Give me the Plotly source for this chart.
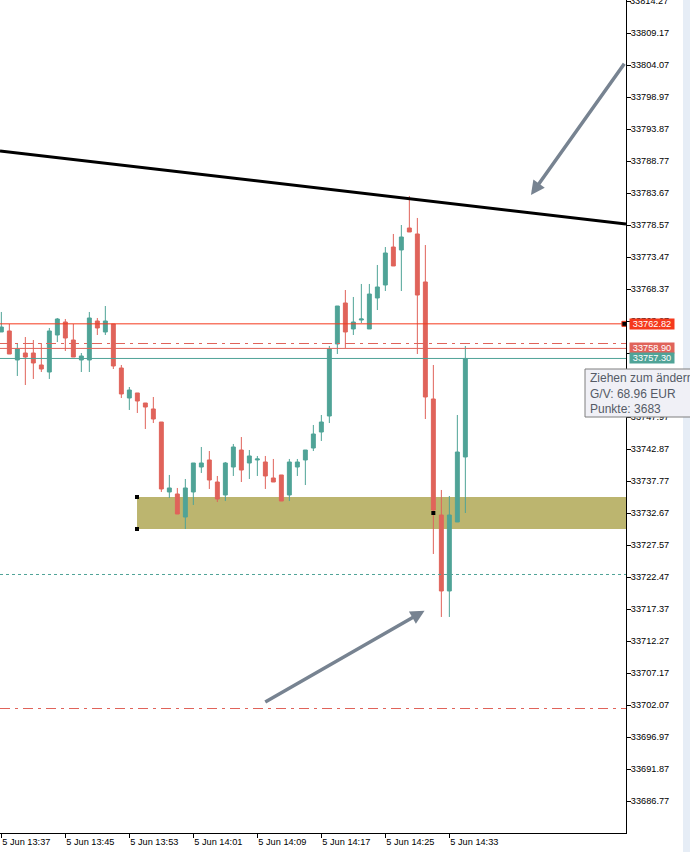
import plotly.graph_objects as go

# Candle data (one candle per minute, index = minute since 13:37)
opens = [33761.52, 33761.68, 33757.06, 33758.17, 33758.17, 33756.26, 33755.14, 33761.04, 33763.11, 33760.24,
         33757.06, 33757.06, 33763.27, 33761.52, 33762.79, 33755.78, 33751.00, 33751.80, 33750.20, 33749.25,
         33747.17, 33736.02, 33735.70, 33732.03, 33736.02, 33740.00, 33741.12, 33737.61, 33735.54, 33740.00,
         33742.71, 33740.64, 33741.12, 33740.80, 33738.25, 33738.73, 33735.54, 33740.00, 33741.12, 33743.03,
         33745.58, 33748.13, 33759.61, 33766.14, 33762.00, 33763.43, 33762.00, 33766.94, 33769.01, 33775.06,
         33774.59, 33778.09, 33777.14, 33769.49, 33750.84, 33732.35, 33720.24, 33731.24, 33741.60]
highs = [33764.71, 33762.79, 33759.76, 33760.72, 33760.24, 33759.76, 33762.16, 33763.75, 33763.59, 33762.79,
         33758.17, 33764.71, 33763.75, 33765.66, 33762.79, 33756.26, 33752.75, 33751.80, 33750.20, 33751.16,
         33747.17, 33738.73, 33736.66, 33738.09, 33740.64, 33743.19, 33742.55, 33738.57, 33740.80, 33743.67,
         33744.78, 33742.71, 33741.76, 33741.76, 33741.28, 33738.73, 33741.28, 33741.28, 33742.71, 33746.70,
         33748.29, 33759.29, 33765.66, 33768.21, 33767.10, 33769.17, 33769.17, 33772.20, 33775.06, 33777.14,
         33778.57, 33783.19, 33779.69, 33775.38, 33756.26, 33736.34, 33735.38, 33748.29, 33759.29]
lows = [33761.52, 33758.01, 33754.51, 33753.07, 33754.03, 33755.14, 33754.03, 33759.92, 33758.49, 33757.53,
        33755.14, 33755.14, 33761.04, 33761.04, 33755.62, 33751.00, 33749.09, 33748.61, 33746.06, 33747.01,
        33736.02, 33735.06, 33732.51, 33730.12, 33733.95, 33739.05, 33736.50, 33734.42, 33734.58, 33738.57,
        33737.61, 33738.09, 33738.57, 33736.50, 33737.61, 33734.58, 33734.58, 33738.57, 33737.13, 33742.55,
        33744.15, 33747.01, 33758.01, 33758.97, 33761.04, 33762.95, 33762.00, 33765.02, 33768.05, 33772.04,
        33768.05, 33777.46, 33758.01, 33747.65, 33726.14, 33716.10, 33716.10, 33731.24, 33732.67]
closes = [33762.31, 33758.01, 33758.81, 33757.53, 33756.58, 33755.62, 33761.68, 33763.59, 33760.56, 33757.53,
          33757.69, 33763.75, 33762.16, 33763.27, 33756.10, 33751.64, 33752.27, 33750.52, 33749.56, 33747.65,
          33736.50, 33736.66, 33732.51, 33736.66, 33740.64, 33740.64, 33737.93, 33734.90, 33740.64, 33743.19,
          33739.52, 33741.76, 33741.28, 33738.57, 33737.61, 33734.58, 33740.80, 33740.80, 33742.71, 33745.26,
          33747.17, 33758.81, 33765.66, 33761.52, 33763.11, 33763.59, 33767.57, 33768.69, 33774.11, 33772.04,
          33776.66, 33777.46, 33767.41, 33751.16, 33733.15, 33720.24, 33732.35, 33742.39, 33757.30]
minutes = list(range(len(opens)))

# Axis ticks
price_ticks = [33814.27, 33809.17, 33804.07, 33798.97, 33793.87, 33788.77, 33783.67, 33778.57, 33773.47,
               33768.37, 33763.27, 33758.17, 33753.07, 33747.97, 33742.87, 33737.77, 33732.67, 33727.57,
               33722.47, 33717.37, 33712.27, 33707.17, 33702.07, 33696.97, 33691.87, 33686.77]
time_ticks = [0, 8, 16, 24, 32, 40, 48, 56]
time_labels = ["5 Jun 13:37", "5 Jun 13:45", "5 Jun 13:53", "5 Jun 14:01",
               "5 Jun 14:09", "5 Jun 14:17", "5 Jun 14:25", "5 Jun 14:33"]

# Levels drawn on the chart
take_profit = 33762.82
entry_line = 33758.90
bid_line = 33757.30
dashdot_upper = 33759.685
dotted_level = 33722.87
dashdot_lower = 33701.51
zone_top = 33735.22
zone_bottom = 33730.12
trend_start = 33790.37
trend_end = 33778.73

RED = "#e0635a"
TEAL = "#4fa397"
BRIGHT_RED = "#f5391c"
ARROW = "#778391"

W, H = 690, 852
PLOT_W, PLOT_H = 626, 833
x_left, x_right = -0.167, 78.08

fig = go.Figure(go.Candlestick(
    x=minutes, open=opens, high=highs, low=lows, close=closes,
    increasing=dict(line=dict(color=TEAL, width=1), fillcolor=TEAL),
    decreasing=dict(line=dict(color=RED, width=1), fillcolor=RED),
    whiskerwidth=0, hoverinfo="skip", showlegend=False,
))

# Olive zone sits behind the candles
fig.add_shape(type="rect", xref="x", yref="y", x0=16.96, x1=x_right, y0=zone_bottom, y1=zone_top,
              fillcolor="#bcb56f", line_width=0, layer="below")

# Horizontal levels
for level, color, dash in [(take_profit, BRIGHT_RED, "solid"), (entry_line, RED, "solid"),
                           (bid_line, TEAL, "solid"), (dashdot_upper, RED, "10px,5px,3px,5px"),
                           (dotted_level, TEAL, "3px,3px"), (dashdot_lower, RED, "10px,5px,3px,5px")]:
    fig.add_shape(type="line", xref="paper", yref="y", x0=0, x1=1, y0=level, y1=level,
                  line=dict(color=color, width=1, dash=dash))

# Black trend line
fig.add_shape(type="line", xref="x", yref="y", x0=x_left, x1=x_right, y0=trend_start, y1=trend_end,
              line=dict(color="black", width=3))

# Drag handles
for hx, hy in [(16.96, zone_top), (16.96, zone_bottom), (54, 33732.67)]:
    fig.add_shape(type="rect", xref="x", yref="y", xsizemode="pixel", ysizemode="pixel",
                  xanchor=hx, yanchor=hy, x0=-2, x1=2, y0=-2, y1=2,
                  fillcolor="black", line_width=0)
fig.add_shape(type="rect", xref="x", yref="y", xsizemode="pixel", ysizemode="pixel", xanchor=x_right - 0.2,
              yanchor=take_profit, x0=-2.5, x1=2.5, y0=-2.5, y1=2.5, fillcolor="black",
              line=dict(color=BRIGHT_RED, width=1))

# Grey arrows
for tip_x, tip_y, tail_x, tail_y in [(66.2, 33783.35, 78.0, 33804.5), (52.9, 33717.1, 32.8, 33702.4)]:
    fig.add_annotation(x=tip_x, y=tip_y, ax=tail_x, ay=tail_y, xref="x", yref="y", axref="x", ayref="y",
                       text="", showarrow=True, arrowhead=2, arrowsize=0.8, arrowwidth=3.5, arrowcolor=ARROW)

# Price tags on the axis
for level, color in [(take_profit, BRIGHT_RED), (entry_line, RED), (bid_line, TEAL)]:
    fig.add_annotation(xref="paper", yref="y", x=1, y=level, xanchor="left", xshift=3, yanchor="middle",
                       text=f"{level:.2f}", showarrow=False, bgcolor=color, borderpad=0, height=10, width=44,
                       font=dict(family="Liberation Sans", size=9.2, color="white"))

# Plotly drops the top tick label since it doesn't fit, so put it back by hand
fig.add_annotation(xref="paper", yref="y", x=1, y=price_ticks[0], xanchor="left", xshift=3, yanchor="middle",
                   text=f"{price_ticks[0]:.2f}", showarrow=False, borderpad=0,
                   font=dict(family="Liberation Sans", size=9.2, color="black"))

# Right hand window strip
fig.add_shape(type="rect", xref="paper", yref="paper", x0=683 / PLOT_W, x1=W / PLOT_W, y0=-19 / PLOT_H, y1=1,
              fillcolor="#e6edf6", line_width=0)

# Tooltip, cut off by the window edge like in the screenshot
fig.add_shape(type="rect", xref="paper", yref="paper", x0=585 / PLOT_W, x1=700 / PLOT_W,
              y0=1 - 417 / PLOT_H, y1=1 - 369 / PLOT_H, fillcolor="#f0f0f6", line=dict(color="#7f7f7f", width=1))
fig.add_annotation(xref="paper", yref="paper", x=588 / PLOT_W, y=1 - 393 / PLOT_H, xanchor="left", yanchor="middle",
                   text="Ziehen zum ändern<br>G/V: 68.96 EUR<br>Punkte: 3683", align="left", showarrow=False,
                   font=dict(family="Liberation Sans", size=12, color="#555b66"))

fig.update_layout(
    width=W, height=H, margin=dict(l=0, r=W - PLOT_W, t=0, b=H - PLOT_H),
    paper_bgcolor="white", plot_bgcolor="white", showlegend=False,
    font=dict(family="Liberation Sans", size=9.2, color="black"),
    xaxis=dict(range=[x_left, x_right], tickmode="array", tickvals=time_ticks, ticktext=time_labels,
               ticks="outside", ticklen=4, tickcolor="black", tickwidth=1, showgrid=False, zeroline=False,
               showline=True, linecolor="black", linewidth=1, rangeslider=dict(visible=False),
               ticklabelposition="outside right"),
    yaxis=dict(range=[33681.67, 33814.43], side="right", tickmode="array", tickvals=price_ticks,
               ticktext=[f"{p:.2f}" for p in price_ticks], ticks="outside", ticklen=4, tickcolor="black",
               tickwidth=1, showgrid=False, zeroline=False, showline=True, linecolor="black", linewidth=1,
               ticklabelstandoff=-2),
)

fig.write_html("out.html", config={"displayModeBar": False},
               post_script="document.body.style.margin='0';document.body.style.overflow='hidden';")
